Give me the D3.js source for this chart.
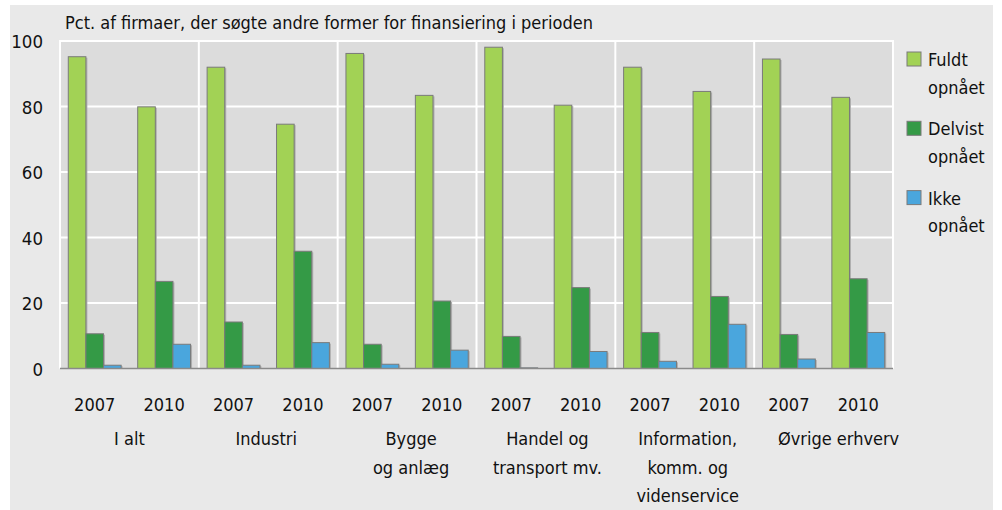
<!DOCTYPE html>
<html><head><meta charset="utf-8">
<script src="https://cdn.jsdelivr.net/npm/d3@7"></script>
<style>
html,body{margin:0;padding:0;background:#fff;}
svg text{font-family:"DejaVu Sans Condensed","Liberation Sans",sans-serif;fill:#111;}
</style></head>
<body><svg id="c" width="1002" height="510"></svg>
<script>
const categories = [["I alt"],["Industri"],["Bygge","og anlæg"],["Handel og","transport mv."],["Information,","komm. og","videnservice"],["Øvrige erhverv"]];
const years = ["2007","2010"];
const seriesNames = [["Fuldt","opnået"],["Delvist","opnået"],["Ikke","opnået"]];
// values per category: [2007, 2010]
const fuldt  = [[95.2,79.9],[92.0,74.6],[96.2,83.4],[98.1,80.4],[92.0,84.6],[94.5,82.8]];
const delvist= [[10.6,26.6],[14.2,35.8],[7.4,20.6],[9.8,24.7],[11.0,22.0],[10.4,27.4]];
const ikke   = [[1.0,7.4],[1.0,7.9],[1.3,5.6],[0.2,5.2],[2.2,13.5],[2.9,11.0]];
const yTicks = [0,20,40,60,80,100];
const title = "Pct. af firmaer, der søgte andre former for finansiering i perioden";
const colors = ["#a2d255","#349a46","#4aa6dd"];

const svg = d3.select("#c");
svg.append("rect").attr("x",10).attr("y",5).attr("width",983).attr("height",505).attr("fill","#e9e9e9");

const L=60,R=893,T=41,B=368.5;
const y = d3.scaleLinear().domain([0,100]).range([B,T]);
const x0 = d3.scaleBand().domain(d3.range(categories.length)).range([L,R]).padding(0);
const x1 = d3.scaleBand().domain(years).range([0,x0.bandwidth()]).padding(0);
const x2 = d3.scaleBand().domain([0,1,2]).range([0,x1.bandwidth()]).paddingInner(0).paddingOuter(0.47);

svg.append("rect").attr("x",L).attr("y",T).attr("width",R-L).attr("height",B-T).attr("fill","#dcdcdc");
svg.append("g").selectAll("line").data(yTicks.filter(d=>d>0)).join("line")
  .attr("x1",L).attr("x2",R).attr("y1",d=>y(d)).attr("y2",d=>y(d))
  .attr("stroke","#fff").attr("stroke-width",2);
const bounds = d3.range(categories.length).map(i=>x0(i)).concat([R]);
svg.append("g").selectAll("line").data(bounds).join("line")
  .attr("x1",d=>d).attr("x2",d=>d).attr("y1",T-1).attr("y2",B)
  .attr("stroke","#fff").attr("stroke-width",2);

const data=[];
categories.forEach((c,i)=>years.forEach((yr,j)=>{
  [fuldt,delvist,ikke].forEach((s,k)=>data.push({i,yr,k,v:s[i][j]}));
}));
const bars = svg.append("g");
bars.selectAll("rect.sh").data(data).join("rect").attr("class","sh")
  .attr("x",d=>x0(d.i)+x1(d.yr)+x2(d.k)+1.5).attr("y",d=>y(d.v)+1)
  .attr("width",x2.bandwidth()).attr("height",d=>B-y(d.v)-1)
  .attr("fill","#b0b0b0");
bars.selectAll("rect.b").data(data).join("rect").attr("class","b")
  .attr("x",d=>x0(d.i)+x1(d.yr)+x2(d.k)).attr("y",d=>y(d.v))
  .attr("width",x2.bandwidth()).attr("height",d=>B-y(d.v))
  .attr("fill",d=>colors[d.k]).attr("stroke","#7a7a7a").attr("stroke-width",1);

svg.append("line").attr("x1",L).attr("x2",R).attr("y1",B).attr("y2",B).attr("stroke","#8a8a8a").attr("stroke-width",1.5);

const yAxis = d3.axisLeft(y).tickValues(yTicks).tickSize(0).tickPadding(0);
const ga = svg.append("g").attr("transform",`translate(${43},0)`).call(yAxis);
ga.select(".domain").remove();
ga.selectAll("text").attr("font-size",18.5).attr("fill","#111").attr("dy","0.36em").style("font-family",null);

const yl = svg.append("g");
categories.forEach((c,i)=>years.forEach(yr=>{
  yl.append("text").attr("x",x0(i)+x1(yr)+x1.bandwidth()/2).attr("y",411)
    .attr("text-anchor","middle").attr("font-size",18).text(yr);
}));
const labelNudge = [0,-2,4,1.5,3,15];
categories.forEach((lines,i)=>{
  const t = svg.append("text").attr("text-anchor","middle").attr("font-size",18);
  lines.forEach((ln,j)=>t.append("tspan").attr("x",x0(i)+x0.bandwidth()/2+labelNudge[i]).attr("y",445+j*28.5).text(ln));
});

svg.append("text").attr("x",65).attr("y",29).attr("font-size",18).text(title);

const lg = svg.append("g");
seriesNames.forEach((s,k)=>{
  const ty = 52+k*69.3;
  lg.append("rect").attr("x",907).attr("y",ty).attr("width",14).attr("height",14)
    .attr("fill",colors[k]).attr("stroke","#7a7a7a").attr("stroke-width",1);
  const t = lg.append("text").attr("font-size",18);
  s.forEach((ln,j)=>t.append("tspan").attr("x",928).attr("y",ty+14+j*27.5).text(ln));
});
</script></body></html>
